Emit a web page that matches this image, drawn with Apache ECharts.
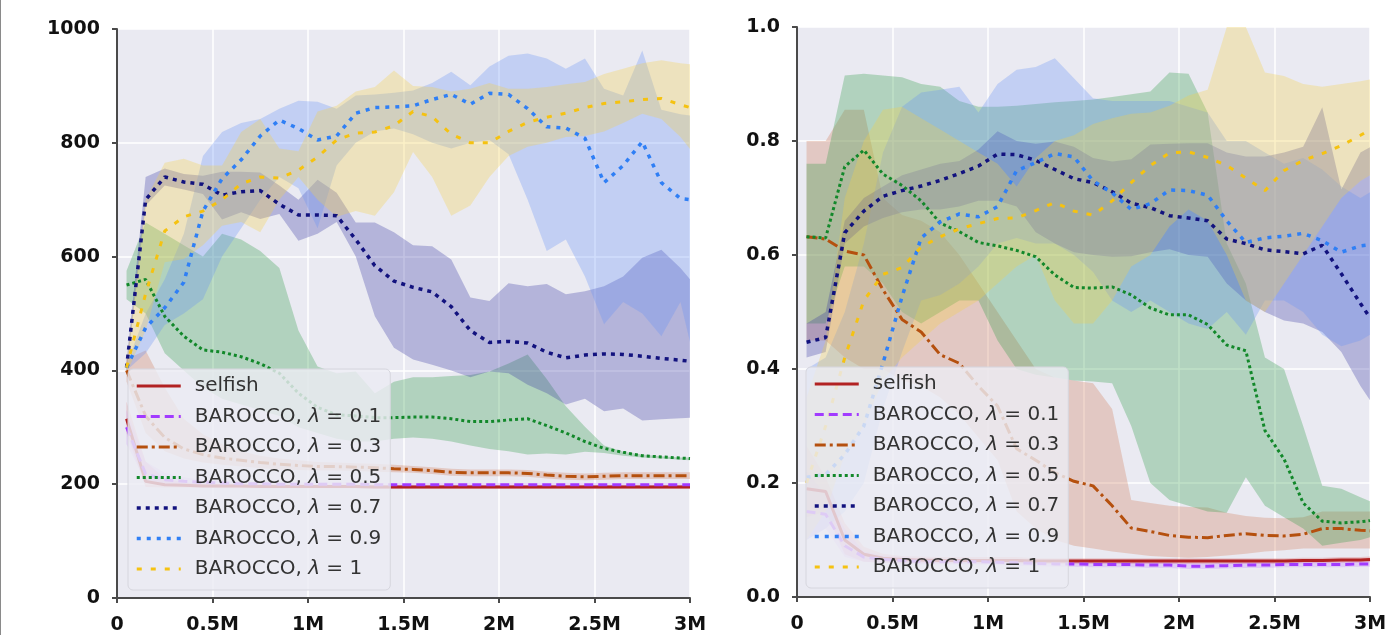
<!DOCTYPE html>
<html><head><meta charset="utf-8">
<script src="https://cdn.jsdelivr.net/npm/echarts@6/dist/echarts.min.js"></script>
<style>html,body{margin:0;padding:0;background:#fff;}#c{width:1399px;height:635px;}#edge{position:absolute;left:0;top:0;width:1px;height:635px;background:#8a8a8a;}</style>
</head><body><div id="c"></div><div id="edge"></div>
<script>
// ---------- DATA ----------
const xs = [0.05,0.15,0.25,0.35,0.45,0.55,0.65,0.75,0.85,0.95,1.05,1.15,1.25,1.35,1.45,1.55,1.65,1.75,1.85,1.95,2.05,2.15,2.25,2.35,2.45,2.55,2.65,2.75,2.85,2.95,3.0];
const xTicks = [0,0.5,1,1.5,2,2.5,3];
const xTickLabels = ['0','0.5M','1M','1.5M','2M','2.5M','3M'];
const leftYTicks = [0,200,400,600,800,1000];
const rightYTicks = [0,0.2,0.4,0.6,0.8,1.0];
const rightYTickLabels = ['0.0','0.2','0.4','0.6','0.8','1.0'];
const seriesNames = ['selfish','BAROCCO, λ = 0.1','BAROCCO, λ = 0.3','BAROCCO, λ = 0.5','BAROCCO, λ = 0.7','BAROCCO, λ = 0.9','BAROCCO, λ = 1'];

// Left chart
const L_selfish    = [315,205,199,198,197,197,197,196,196,196,196,196,196,195,195,195,195,195,195,195,195,195,195,195,195,195,195,195,195,195,195];
const L_selfish_lo = [290,195,194,194,194,193,193,193,193,193,193,193,193,192,192,192,192,192,192,192,192,192,192,192,192,192,192,192,192,192,192];
const L_selfish_hi = [345,240,210,203,201,201,200,200,200,200,199,199,199,198,198,198,198,198,198,198,198,198,198,198,198,198,198,198,198,198,198];
const L_l01    = [300,218,208,205,203,202,201,201,200,200,200,200,200,199,199,199,199,199,199,199,199,199,199,199,199,199,199,199,199,199,199];
const L_l01_lo = [270,205,200,200,199,198,198,198,197,197,197,197,197,196,196,196,196,196,196,196,196,196,196,196,196,196,196,196,196,196,196];
const L_l01_hi = [330,240,220,212,208,206,205,204,203,203,203,203,203,202,202,202,202,202,202,202,202,202,202,202,202,202,202,202,202,202,202];
const L_l03    = [400,320,282,262,252,246,242,238,235,233,231,231,230,229,227,226,224,221,220,220,220,219,216,214,213,214,215,215,215,215,215];
const L_l03_lo = [380,290,258,245,238,234,231,228,226,225,224,224,223,222,221,220,218,215,214,214,214,213,210,208,207,208,209,209,209,209,209];
const L_l03_hi = [420,435,370,315,288,270,258,250,245,242,239,238,237,236,234,232,230,227,226,226,226,225,222,220,219,220,221,221,221,221,221];
const L_l05    = [550,560,495,460,436,432,424,412,395,360,335,322,320,317,317,318,318,315,310,310,313,315,303,290,275,263,256,250,248,246,245];
const L_l05_lo = [525,500,430,400,370,350,340,330,320,300,290,280,275,275,280,282,280,275,268,262,258,252,254,252,257,255,250,247,245,243,242];
const L_l05_hi = [575,660,640,620,600,640,630,610,580,470,407,395,398,360,380,388,388,390,392,398,412,428,385,337,301,268,257,252,249,247,247];
const L_l07    = [405,700,740,731,727,708,714,716,692,673,673,672,630,584,557,546,538,512,470,449,451,448,432,422,427,429,428,425,421,418,416];
const L_l07_lo = [395,690,725,718,710,665,678,666,675,628,640,661,600,495,440,419,410,400,388,398,395,375,360,340,350,328,333,312,314,316,317];
const L_l07_hi = [415,740,755,745,742,749,749,748,725,700,735,712,660,660,643,620,618,595,528,522,553,548,552,534,539,548,565,598,612,580,560];
const L_l09    = [405,475,510,555,680,737,770,812,840,825,805,812,852,862,863,865,876,885,868,887,885,860,828,826,808,730,760,802,730,702,700];
const L_l09_lo = [400,430,480,500,525,600,650,700,740,720,650,760,800,820,825,815,800,790,800,805,780,700,610,630,565,481,520,500,460,520,450];
const L_l09_hi = [410,500,560,640,777,819,835,842,860,874,872,860,883,885,888,892,905,925,901,934,953,957,948,930,948,895,883,962,858,850,848];
const L_l1     = [405,535,645,670,680,700,728,740,738,752,775,805,817,819,830,855,846,815,800,800,820,836,845,852,862,869,872,876,878,867,862];
const L_l1_lo  = [395,470,590,596,620,654,661,643,700,740,700,670,680,672,713,784,740,672,690,740,777,793,800,810,812,820,835,851,842,810,789];
const L_l1_hi  = [415,700,765,772,760,760,819,842,790,785,855,865,890,898,927,900,898,890,895,905,895,895,898,903,907,921,930,940,945,940,938];

// Right chart
const R_selfish    = [0.19,0.185,0.10,0.075,0.068,0.066,0.065,0.064,0.064,0.064,0.064,0.064,0.063,0.063,0.063,0.063,0.063,0.063,0.063,0.063,0.063,0.063,0.063,0.063,0.063,0.063,0.064,0.064,0.065,0.065,0.066];
const R_selfish_lo = [0.14,0.15,0.075,0.062,0.06,0.059,0.059,0.059,0.059,0.059,0.059,0.059,0.058,0.058,0.058,0.058,0.058,0.058,0.058,0.058,0.058,0.058,0.058,0.058,0.058,0.058,0.059,0.059,0.06,0.06,0.061];
const R_selfish_hi = [0.265,0.21,0.13,0.088,0.076,0.072,0.071,0.07,0.07,0.07,0.07,0.07,0.068,0.068,0.068,0.068,0.068,0.068,0.068,0.068,0.068,0.068,0.068,0.068,0.068,0.068,0.069,0.069,0.07,0.07,0.071];
const R_l01    = [0.15,0.145,0.09,0.07,0.066,0.064,0.062,0.062,0.062,0.062,0.061,0.06,0.059,0.058,0.058,0.057,0.057,0.057,0.056,0.056,0.054,0.054,0.055,0.056,0.056,0.057,0.057,0.057,0.057,0.058,0.058];
const R_l01_lo = [0.10,0.12,0.07,0.062,0.06,0.058,0.057,0.057,0.057,0.057,0.056,0.055,0.054,0.053,0.053,0.052,0.052,0.052,0.051,0.051,0.049,0.049,0.05,0.051,0.051,0.052,0.052,0.052,0.052,0.053,0.053];
const R_l01_hi = [0.22,0.18,0.12,0.08,0.073,0.07,0.068,0.067,0.067,0.067,0.066,0.065,0.064,0.063,0.063,0.062,0.062,0.062,0.061,0.061,0.059,0.059,0.06,0.061,0.061,0.062,0.062,0.062,0.062,0.063,0.063];
const R_l03    = [0.632,0.628,0.607,0.600,0.539,0.487,0.465,0.425,0.410,0.370,0.335,0.260,0.240,0.218,0.203,0.195,0.160,0.121,0.115,0.108,0.105,0.104,0.108,0.111,0.108,0.107,0.110,0.120,0.120,0.117,0.116];
const R_l03_lo = [0.45,0.45,0.42,0.40,0.40,0.38,0.37,0.35,0.32,0.28,0.24,0.15,0.12,0.10,0.09,0.085,0.08,0.076,0.072,0.07,0.069,0.07,0.073,0.076,0.08,0.082,0.085,0.085,0.085,0.085,0.085];
const R_l03_hi = [0.80,0.80,0.855,0.855,0.70,0.67,0.66,0.64,0.60,0.55,0.50,0.45,0.40,0.385,0.38,0.375,0.33,0.17,0.165,0.16,0.158,0.157,0.148,0.142,0.139,0.138,0.14,0.15,0.15,0.15,0.15];
const R_l05    = [0.632,0.630,0.755,0.784,0.742,0.722,0.695,0.656,0.641,0.622,0.616,0.608,0.597,0.565,0.543,0.542,0.544,0.530,0.507,0.495,0.495,0.478,0.442,0.432,0.292,0.242,0.165,0.133,0.130,0.132,0.134];
const R_l05_lo = [0.48,0.48,0.58,0.58,0.55,0.50,0.48,0.50,0.52,0.52,0.45,0.40,0.39,0.385,0.38,0.378,0.375,0.30,0.20,0.17,0.16,0.15,0.148,0.21,0.16,0.14,0.12,0.09,0.095,0.10,0.105];
const R_l05_hi = [0.76,0.76,0.915,0.918,0.915,0.912,0.90,0.895,0.87,0.86,0.86,0.862,0.865,0.868,0.87,0.873,0.877,0.882,0.887,0.92,0.918,0.85,0.62,0.55,0.42,0.40,0.30,0.195,0.19,0.175,0.168];
const R_l07    = [0.447,0.455,0.639,0.677,0.703,0.713,0.721,0.731,0.743,0.756,0.777,0.776,0.766,0.750,0.734,0.727,0.711,0.691,0.683,0.669,0.665,0.660,0.628,0.620,0.609,0.606,0.602,0.617,0.567,0.515,0.490];
const R_l07_lo = [0.42,0.43,0.62,0.65,0.665,0.675,0.68,0.68,0.685,0.695,0.695,0.685,0.64,0.62,0.605,0.60,0.597,0.598,0.605,0.61,0.60,0.597,0.55,0.52,0.50,0.485,0.48,0.465,0.43,0.37,0.345];
const R_l07_hi = [0.48,0.50,0.66,0.70,0.72,0.74,0.75,0.76,0.765,0.785,0.817,0.80,0.795,0.799,0.79,0.77,0.764,0.768,0.794,0.795,0.796,0.796,0.78,0.773,0.773,0.78,0.79,0.859,0.715,0.78,0.789];
const R_l09    = [0.21,0.215,0.25,0.30,0.41,0.527,0.63,0.658,0.672,0.667,0.685,0.748,0.762,0.778,0.772,0.73,0.709,0.68,0.69,0.714,0.713,0.705,0.66,0.622,0.63,0.633,0.638,0.625,0.605,0.616,0.618];
const R_l09_lo = [0.10,0.12,0.15,0.20,0.33,0.43,0.52,0.53,0.55,0.58,0.62,0.63,0.62,0.62,0.60,0.57,0.52,0.50,0.52,0.50,0.48,0.47,0.50,0.46,0.52,0.52,0.50,0.46,0.44,0.45,0.46];
const R_l09_hi = [0.40,0.42,0.50,0.62,0.78,0.86,0.885,0.89,0.895,0.85,0.90,0.925,0.93,0.945,0.91,0.875,0.87,0.87,0.87,0.87,0.86,0.85,0.80,0.80,0.78,0.76,0.77,0.75,0.72,0.70,0.71];
const R_l1     = [0.20,0.30,0.42,0.52,0.566,0.578,0.614,0.632,0.646,0.655,0.664,0.665,0.678,0.692,0.677,0.67,0.695,0.727,0.757,0.779,0.781,0.771,0.757,0.735,0.713,0.748,0.766,0.778,0.792,0.81,0.82];
const R_l1_lo  = [0.10,0.15,0.25,0.30,0.38,0.42,0.45,0.48,0.50,0.52,0.55,0.58,0.60,0.52,0.48,0.48,0.52,0.58,0.60,0.65,0.68,0.66,0.60,0.52,0.50,0.55,0.60,0.65,0.70,0.73,0.74];
const R_l1_hi  = [0.35,0.45,0.70,0.80,0.855,0.86,0.84,0.82,0.80,0.78,0.76,0.72,0.77,0.80,0.81,0.83,0.84,0.848,0.85,0.862,0.88,0.89,1.0,1.0,0.92,0.914,0.90,0.895,0.90,0.905,0.908];

// ---------- STYLE ----------
const lineColors = ['#B22222','#A23BFF','#B5500E','#12882A','#12127E','#2F7FF5','#F5C211'];
const bandColors = ['rgba(215,80,80,0.25)','rgba(190,110,255,0.25)','rgba(210,124,85,0.3)','rgba(47,154,69,0.3)','rgba(57,57,162,0.3)','rgba(104,147,245,0.3)','rgba(244,207,69,0.3)'];
const dashes = ['solid',[9,5],[11,4,3,4],[3,3],[4,5],[4,6],[5,9]];
const widths = [3,3,3,3,3.5,3.5,3];

const leftSets = [[L_selfish,L_selfish_lo,L_selfish_hi],[L_l01,L_l01_lo,L_l01_hi],[L_l03,L_l03_lo,L_l03_hi],[L_l05,L_l05_lo,L_l05_hi],[L_l07,L_l07_lo,L_l07_hi],[L_l09,L_l09_lo,L_l09_hi],[L_l1,L_l1_lo,L_l1_hi]];
const rightSets = [[R_selfish,R_selfish_lo,R_selfish_hi],[R_l01,R_l01_lo,R_l01_hi],[R_l03,R_l03_lo,R_l03_hi],[R_l05,R_l05_lo,R_l05_hi],[R_l07,R_l07_lo,R_l07_hi],[R_l09,R_l09_lo,R_l09_hi],[R_l1,R_l1_lo,R_l1_hi]];

const FONT = 'DejaVu Sans';
const series = [];
function addChart(g, sets) {
  sets.forEach((s, i) => {
    const [m, lo, hi] = s;
    series.push({
      type: 'custom', name: '_band' + g + i, xAxisIndex: g, yAxisIndex: g, silent: true, z: 2,
      data: xs.map((x, k) => [x, lo[k], hi[k]]),
      encode: { x: 0, y: [1, 2] },
      clip: true,
      renderItem: (params, api) => {
        if (params.dataIndex !== 0) return null;
        const pts = [];
        for (let k = 0; k < xs.length; k++) pts.push(api.coord([xs[k], hi[k]]));
        for (let k = xs.length - 1; k >= 0; k--) pts.push(api.coord([xs[k], lo[k]]));
        return { type: 'polygon', shape: { points: pts }, style: { fill: bandColors[i], stroke: null } };
      }
    });
  });
  sets.forEach((s, i) => {
    series.push({
      type: 'line', name: seriesNames[i], xAxisIndex: g, yAxisIndex: g,
      data: xs.map((x, k) => [x, s[0][k]]), symbol: 'none', showSymbol: false, z: 3,
      itemStyle: { color: lineColors[i] },
      lineStyle: { color: lineColors[i], width: widths[i], type: dashes[i] }
    });
  });
}
addChart(0, leftSets);
addChart(1, rightSets);

const axisLineStyle = { color: '#4a4a4a', width: 2 };
const labelStyle = { fontFamily: FONT, fontWeight: 'bold', fontSize: 19, color: '#111' };
function xAxis(g) {
  return {
    type: 'value', gridIndex: g, min: 0, max: 3, interval: 0.5, offset: 10,
    axisLine: { show: true, lineStyle: axisLineStyle },
    axisTick: { show: true, length: 5, lineStyle: axisLineStyle },
    axisLabel: Object.assign({ margin: 8, formatter: v => { const k = xTicks.indexOf(v); return k >= 0 ? xTickLabels[k] : ''; } }, labelStyle),
    splitLine: { show: true, lineStyle: { color: '#ffffff', width: 1.5 } }
  };
}
function yAxis(g) {
  return {
    type: 'value', gridIndex: g, min: 0, max: g === 0 ? 1000 : 1, interval: g === 0 ? 200 : 0.2, offset: 9,
    axisLine: { show: true, lineStyle: axisLineStyle },
    axisTick: { show: true, length: 5, lineStyle: axisLineStyle },
    axisLabel: Object.assign({ margin: 8, formatter: v => {
      if (g === 0) return String(v);
      let k = rightYTicks.findIndex(t => Math.abs(t - v) < 1e-9); return k >= 0 ? rightYTickLabels[k] : '';
    } }, labelStyle),
    splitLine: { show: true, lineStyle: { color: '#ffffff', width: 1.5 } }
  };
}
function legend(left, top) {
  return {
    orient: 'vertical', left, top, data: seriesNames, selectedMode: false,
    itemWidth: 44, itemHeight: 20, itemGap: 10.5,
    padding: [7, 9, 11, 7],
    backgroundColor: 'rgba(236,236,243,0.82)', borderColor: '#d6d6de', borderWidth: 1, borderRadius: 5,
    itemStyle: { opacity: 0 },
    lineStyle: { width: 'inherit' },
    formatter: n => n.replace('λ', '{i|λ}'),
    textStyle: { fontFamily: FONT, fontSize: 20, color: '#333', lineHeight: 20, padding: [0, 0, 0, 9],
      rich: { i: { fontFamily: FONT, fontStyle: 'italic', fontSize: 20, color: '#333', lineHeight: 20 } } }
  };
}

const chart = echarts.init(document.getElementById('c'), null, { renderer: 'canvas' });
chart.setOption({
  animation: false,
  backgroundColor: '#ffffff',
  grid: [
    { left: 117, top: 29, width: 573, height: 570, show: true, backgroundColor: '#EAEAF2', borderWidth: 0 },
    { left: 797, top: 27, width: 573, height: 570, show: true, backgroundColor: '#EAEAF2', borderWidth: 0 }
  ],
  xAxis: [xAxis(0), xAxis(1)],
  yAxis: [yAxis(0), yAxis(1)],
  legend: [legend(128, 369), legend(806, 367)],
  series
});
</script></body></html>
